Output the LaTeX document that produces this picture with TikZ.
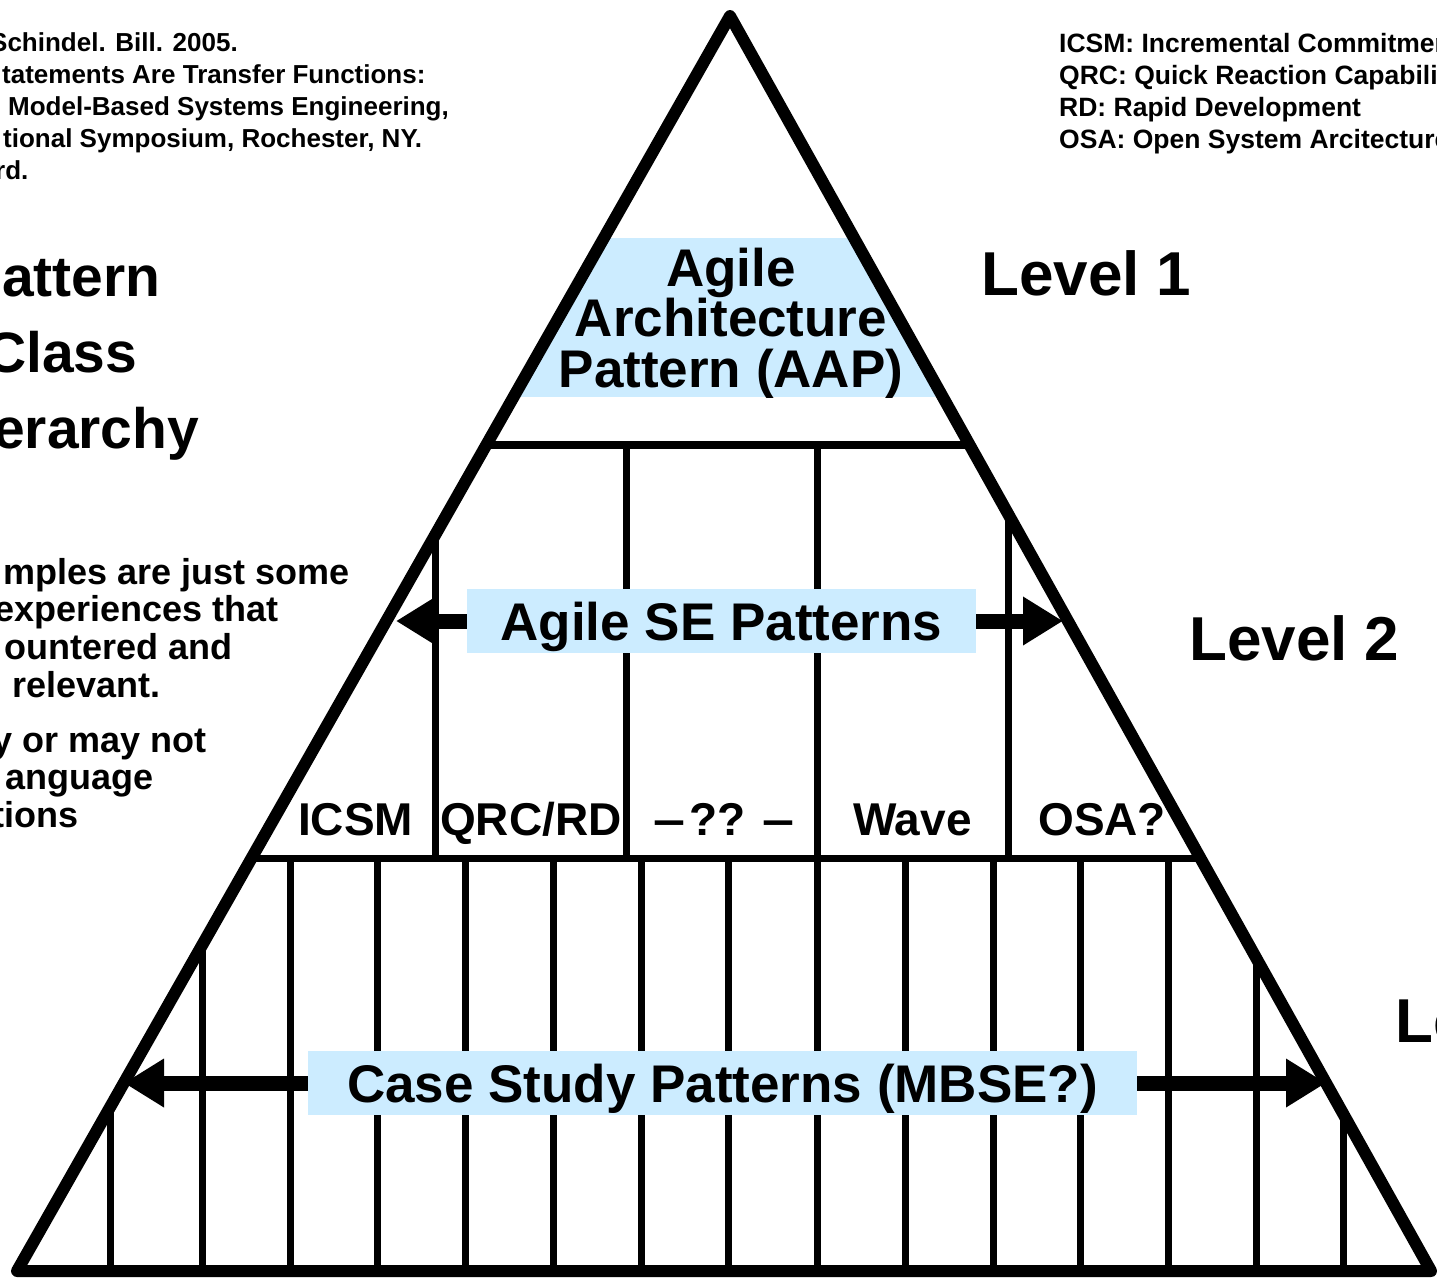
\documentclass[tikz,border=0pt]{standalone}
\usepackage{fontspec}
\usepackage{graphicx}
\setmainfont{Liberation Sans}
\usetikzlibrary{arrows.meta}
\definecolor{boxblue}{RGB}{204,236,255}

\newcommand{\fs}[1]{\bfseries\fontsize{#1}{#1}\selectfont}
\newcommand{\widedash}{\scalebox{1.25}[1]{–}}

\tikzset{
  pyramid/.style={line width=12pt, line join=round},
  band/.style={line width=8pt},
  cell/.style={line width=7pt},
  fatarrow/.style={line width=15pt, -{Triangle[length=40pt,width=46pt]}},
  txt/.style={inner sep=0pt, anchor=base west},
  bluebox/.style={fill=boxblue, inner sep=0pt, text height=51pt, text depth=13pt,
                  minimum height=64pt, font=\fs{53}},
}

\begin{document}
\begin{tikzpicture}[x=1pt,y=-1pt]
\useasboundingbox (0,0) rectangle (1437,1277);

\coordinate (apex) at (730,16);
\coordinate (bl) at (17,1271);
\coordinate (br) at (1431,1271);

% level 1 band and the cell grid of levels 2 and 3, kept inside the pyramid
\begin{scope}
  \clip (apex) -- (bl) -- (br) -- cycle;
  \fill[boxblue] (480,238) rectangle (980,397);
  \draw[band] (0,445) -- (1437,445);
  \draw[cell] (0,858) -- (1437,858);
  \foreach \x in {435,626,817,1008}
    \draw[cell] (\x,445) -- (\x,858);
  \foreach \x in {110,202,290,377,465,553,641,728,817,905,993,1080,1168,1256,1343}
    \draw[cell] (\x,858) -- (\x,1277);
\end{scope}

% level 2 and level 3 labels with their spreading arrows
\node[bluebox, minimum width=509pt] (se) at (721.5,621) {Agile SE Patterns};
\node[bluebox, minimum width=829pt] (cs) at (722.5,1083) {Case Study Patterns (MBSE?)};

\coordinate (seL) at (396,621);
\coordinate (seR) at (1063,621);
\coordinate (csL) at (124,1083);
\coordinate (csR) at (1326,1083);
\draw[fatarrow] (se.west) -- (seL);
\draw[fatarrow] (se.east) -- (seR);
\draw[fatarrow] (cs.west) -- (csL);
\draw[fatarrow] (cs.east) -- (csR);

% the pyramid outline
\draw[pyramid] (apex) -- (bl) -- (br) -- cycle;

% level 1 title
\node[inner sep=0pt, align=center, font=\bfseries\fontsize{53}{50.5}\selectfont]
  (aap) at (731,323) {Agile\\Architecture\\Pattern (AAP)};

% level 2 cells
\node[txt, font=\fs{46}] (icsm) at (298,835) {ICSM};
\node[txt, font=\fs{46}] (qrc)  at (440,835) {QRC/RD};
\node[txt, font=\fs{46}] (unk)  at (653,835) {\widedash\kern4pt?? \widedash};
\node[txt, font=\fs{46}] (wave) at (853,835) {Wave};
\node[txt, font=\fs{46}] (osa)  at (1038,835) {OSA?};

% level names
\node[txt, font=\fs{62}] (lv1) at (981,295) {Level 1};
\node[txt, font=\fs{62}] (lv2) at (1189,660) {Level 2};
\node[txt, font=\fs{62}] (lv3) at (1395,1042) {Level 3};

% reference, top left
\node[txt, font=\fs{26}] (ref1) at (-10,51) {Schindel. Bill. 2005.};
\node[txt, font=\fs{26}] (ref2) at (2,83)   {tatements Are Transfer Functions:};
\node[txt, font=\fs{26}] (ref3) at (8,115)  {Model-Based Systems Engineering,};
\node[txt, font=\fs{26}] (ref4) at (3,147)  {tional Symposium, Rochester, NY.};
\node[txt, font=\fs{26}] (ref5) at (-5,179) {rd.};

% abbreviations, top right
\node[txt, font=\fs{26.5}] (ab1) at (1059,52)  {ICSM: Incremental Commitment};
\node[txt, font=\fs{26.5}] (ab2) at (1059,84)  {QRC: Quick Reaction Capability};
\node[txt, font=\fs{26.5}] (ab3) at (1059,116) {RD: Rapid Development};
\node[txt, font=\fs{26.5}] (ab4) at (1059,148) {OSA: Open System Arcitecture};

% heading, left
\node[txt, font=\fs{57}] (h1) at (2,296)   {attern};
\node[txt, font=\fs{57}] (h2) at (-15,372) {Class};
\node[txt, font=\fs{57}] (h3) at (-7,448)  {erarchy};

% notes, left
\node[txt, font=\fs{36}] (n1) at (3,584)  {mples are just some};
\node[txt, font=\fs{36}] (n2) at (-6,621) {experiences that};
\node[txt, font=\fs{36}] (n3) at (4,659)  {ountered and};
\node[txt, font=\fs{36}] (n4) at (12,697) {relevant.};
\node[txt, font=\fs{36}] (n5) at (-8,752) {y or may not};
\node[txt, font=\fs{36}] (n6) at (5,789)  {anguage};
\node[txt, font=\fs{36}] (n7) at (-8,827) {tions};
\end{tikzpicture}
\end{document}
